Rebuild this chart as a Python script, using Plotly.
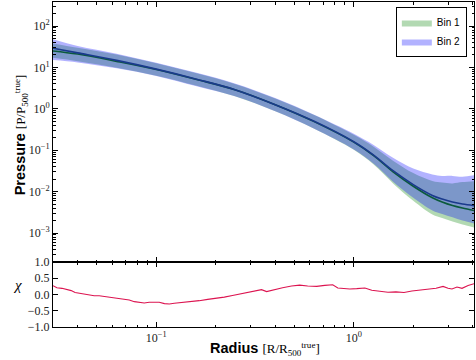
import math
import plotly.graph_objects as go

# pressure profiles (median and 68% band) for the two bins
radius = [0.03, 0.04, 0.063, 0.1, 0.16, 0.25, 0.4, 0.63, 1.0, 1.26, 1.58, 2.0, 2.5, 2.8, 3.16, 3.55, 4.06]
bin1_med = [25, 21, 14, 8.9, 5.1, 2.9, 1.26, 0.49, 0.157, 0.074, 0.030, 0.0135, 0.0071, 0.0056, 0.0046, 0.0040, 0.0035]
bin1_hi = [38, 30, 20.4, 12.6, 7.2, 4.0, 1.78, 0.71, 0.236, 0.122, 0.056, 0.028, 0.018, 0.0165, 0.0158, 0.0170, 0.0178]
bin1_lo = [17, 14.1, 9.8, 6.3, 3.6, 2.0, 0.87, 0.33, 0.102, 0.045, 0.0158, 0.0060, 0.0028, 0.0023, 0.0019, 0.0016, 0.00135]
bin2_med = [29, 22.4, 14.8, 9.1, 5.2, 2.9, 1.26, 0.50, 0.160, 0.076, 0.032, 0.0148, 0.0081, 0.0066, 0.0056, 0.0050, 0.0046]
bin2_hi = [48, 33, 21.4, 12.9, 7.4, 4.1, 1.82, 0.72, 0.25, 0.134, 0.066, 0.036, 0.026, 0.024, 0.024, 0.023, 0.025]
bin2_lo = [15, 13.2, 9.5, 6.2, 3.5, 2.0, 0.87, 0.33, 0.104, 0.047, 0.0174, 0.0071, 0.0035, 0.0029, 0.0024, 0.0020, 0.0017]

# residual chi between the two bins
chi_r = [0.030, 0.0314, 0.0333, 0.0353, 0.0371, 0.0388, 0.0406, 0.0431, 0.0457, 0.0485,
         0.0514, 0.0545, 0.0577, 0.0612, 0.0649, 0.0688, 0.0730, 0.0774, 0.0820, 0.0869,
         0.0921, 0.0977, 0.1035, 0.110, 0.1164, 0.1234, 0.1355, 0.1506, 0.165, 0.182,
         0.202, 0.221, 0.243, 0.270, 0.297, 0.326, 0.341, 0.362, 0.397, 0.436,
         0.484, 0.532, 0.584, 0.649, 0.713, 0.782, 0.830, 0.879, 0.955, 1.035,
         1.138, 1.233, 1.355, 1.489, 1.634, 1.795, 1.968, 2.163, 2.377, 2.608,
         2.83, 3.00, 3.14, 3.33, 3.53, 3.79, 4.06]
chi = [0.27, 0.21, 0.19, 0.16, 0.12, 0.06, 0.04, 0.01, -0.03, -0.04,
       -0.04, -0.06, -0.07, -0.10, -0.11, -0.13, -0.17, -0.22, -0.24, -0.26,
       -0.24, -0.25, -0.24, -0.28, -0.29, -0.27, -0.25, -0.21, -0.19, -0.15,
       -0.12, -0.08, -0.03, 0.02, 0.07, 0.11, 0.15, 0.09, 0.16, 0.21,
       0.26, 0.29, 0.26, 0.25, 0.28, 0.30, 0.20, 0.19, 0.17, 0.18,
       0.20, 0.13, 0.10, 0.07, 0.08, 0.06, 0.11, 0.13, 0.16, 0.19,
       0.25, 0.19, 0.17, 0.23, 0.19, 0.28, 0.33]

serif = "Liberation Serif"
sans = "Liberation Sans"

fig = go.Figure()

bands = [("Bin 1", bin1_lo, bin1_hi, "rgba(0,128,0,0.3)"),
         ("Bin 2", bin2_lo, bin2_hi, "rgba(0,0,255,0.3)")]
for name, lo, hi, col in bands:
    fig.add_trace(go.Scatter(x=radius, y=lo, mode="lines", line=dict(width=0, shape="spline"),
                             showlegend=False, hoverinfo="skip"))
    fig.add_trace(go.Scatter(x=radius, y=hi, mode="lines", line=dict(width=0, shape="spline"),
                             fill="tonexty", fillcolor=col, name=name))

fig.add_trace(go.Scatter(x=radius, y=bin1_med, mode="lines", showlegend=False,
                         line=dict(color="#0b5a3c", width=1.6, shape="spline")))
fig.add_trace(go.Scatter(x=radius, y=bin2_med, mode="lines", showlegend=False,
                         line=dict(color="#1a3a8c", width=1.6, shape="spline")))
fig.add_trace(go.Scatter(x=chi_r, y=chi, mode="lines", showlegend=False,
                         line=dict(color="#dc1450", width=1.1), xaxis="x2", yaxis="y2"))


def sup(n):
    return "10<sup>%s</sup>" % str(n).replace("-", "−")


x_major = [0.1, 1]
y_major = [1e-3, 1e-2, 1e-1, 1, 10, 100]
x_minor = [m * 10 ** e for e in (-2, -1, 0) for m in range(2, 10)]
y_minor = [m * 10 ** e for e in range(-4, 3) for m in range(2, 10)]

axis_common = dict(showline=True, linecolor="black", linewidth=1, mirror="allticks",
                   ticks="inside", ticklen=5, tickcolor="black", showgrid=False, zeroline=False,
                   automargin=False, tickfont=dict(family=serif, size=12, color="#222"))
xr = [math.log10(0.03), math.log10(4.06)]

fig.update_layout(
    width=476, height=360,
    margin=dict(l=53, r=2, t=2, b=33),
    plot_bgcolor="white", paper_bgcolor="white",
    xaxis=dict(axis_common, type="log", range=xr, domain=[0, 1], anchor="y",
               showticklabels=False, tickvals=x_major,
               minor=dict(ticks="inside", ticklen=2.5, tickcolor="black", tickvals=x_minor)),
    yaxis=dict(axis_common, type="log", range=[-3.7, 2.58], domain=[0.2, 1], anchor="x",
               tickvals=y_major, ticktext=[sup(e) for e in range(-3, 3)],
               minor=dict(ticks="inside", ticklen=2.5, tickcolor="black", tickvals=y_minor)),
    xaxis2=dict(axis_common, type="log", range=xr, domain=[0, 1], anchor="y2", matches="x",
                tickvals=x_major, ticktext=[sup(-1), sup(0)],
                minor=dict(ticks="inside", ticklen=2.5, tickcolor="black", tickvals=x_minor)),
    yaxis2=dict(axis_common, range=[-1, 1], domain=[0, 0.2], anchor="x2",
                dtick=0.5, tickformat=".1f"),
    legend=dict(x=0.983, y=0.985, xanchor="right", yanchor="top", bgcolor="white",
                traceorder="normal", bordercolor="black", borderwidth=1,
                font=dict(family=sans, size=10, color="black"), tracegroupgap=0,
                itemwidth=30),
)

bracket = "<span style='font-family:Liberation Serif;font-size:13px'>[%s/%s<sub>500</sub><sup>true</sup>]</span>"
fig.add_annotation(text="<b>Pressure</b> " + bracket % ("P", "P"),
                   xref="paper", yref="paper", x=-0.102, y=0.59, textangle=-90, showarrow=False,
                   font=dict(family=sans, size=14.5, color="black"))
fig.add_annotation(text="<i>χ</i>", xref="paper", yref="paper", x=-0.1, y=0.1, showarrow=False,
                   font=dict(family=serif, size=15, color="black"))
fig.add_annotation(text="<b>Radius</b> " + bracket % ("R", "R"),
                   xref="paper", yref="paper", x=0.504, y=-0.1, showarrow=False,
                   font=dict(family=sans, size=14.5, color="black"))

fig.write_html("out.html", config={"displayModeBar": False},
               post_script="document.body.style.margin='0';")
